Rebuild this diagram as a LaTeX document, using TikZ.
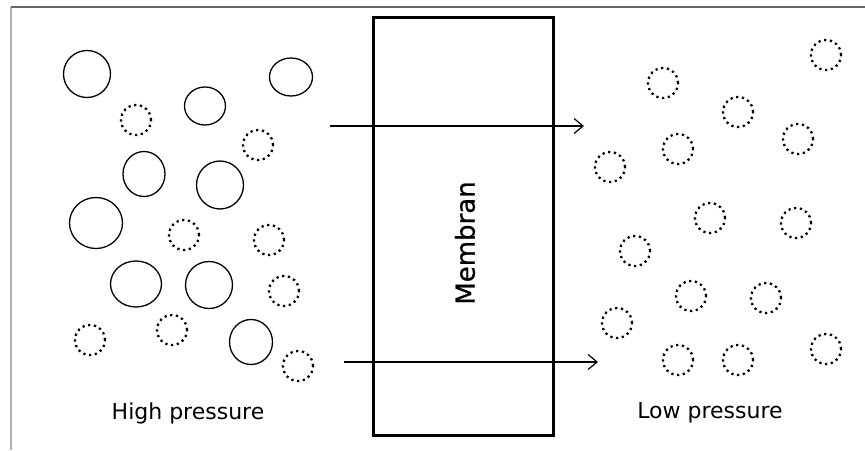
\documentclass[tikz,border=0pt]{standalone}
\usepackage{fontspec}
\setmainfont{DejaVu Sans}
\newfontfamily\membranfont[FakeBold=0.7]{DejaVu Sans}
\usetikzlibrary{shapes.geometric,arrows.meta}
\tikzset{
  solidmol/.style={draw, ellipse, line width=1.3pt, inner sep=0pt},
  dotmol/.style={draw, circle, minimum size=30pt, inner sep=0pt, line width=2.3pt,
                 dash pattern=on 2.2pt off 3.6pt},
  flow/.style={line width=1.2pt, -{Straight Barb[length=9pt,width=15pt,line width=1.2pt]}},
  frametop/.style={draw=black!60, line width=2pt},
  frameleft/.style={draw=black!30, line width=2pt},
  label/.style={font=\fontsize{22}{26}\selectfont, inner sep=0pt},
}
\begin{document}
\begin{tikzpicture}[x=1pt,y=-1pt]
\useasboundingbox (0,0) rectangle (865,450);
\fill[white] (0,0) rectangle (865,450);
% frame
\coordinate (ftl) at (10.5,7);
\coordinate (ftr) at (865,7);
\coordinate (fbl) at (10.5,450);
\draw[frameleft] (ftl) -- (fbl);
\draw[frametop] (ftl) -- (ftr);
% membrane
\node[draw, line width=3pt, minimum width=180pt, minimum height=418pt, inner sep=0pt] (mem) at (463,226) {};
\node[rotate=90, font=\membranfont\fontsize{26}{30}\selectfont, inner sep=0pt] (memtext) at (465,243) {Membran};
% left solid molecules
\node[solidmol, minimum width=47pt, minimum height=47pt] (s1) at (87,74) {};
\node[solidmol, minimum width=43pt, minimum height=38pt] (s2) at (291,77) {};
\node[solidmol, minimum width=41pt, minimum height=38pt] (s3) at (205,106) {};
\node[solidmol, minimum width=42pt, minimum height=45pt] (s4) at (144,174) {};
\node[solidmol, minimum width=47pt, minimum height=48pt] (s5) at (220,185) {};
\node[solidmol, minimum width=53pt, minimum height=51pt] (s6) at (96,223) {};
\node[solidmol, minimum width=51pt, minimum height=46pt] (s7) at (136,284) {};
\node[solidmol, minimum width=47pt, minimum height=47pt] (s8) at (209,285) {};
\node[solidmol, minimum width=43pt, minimum height=45pt] (s9) at (251,342) {};
% left dotted molecules
\node[dotmol] (l1) at (136,120) {};
\node[dotmol] (l2) at (258,145) {};
\node[dotmol] (l3) at (184,235) {};
\node[dotmol] (l4) at (269,240) {};
\node[dotmol] (l5) at (284,291) {};
\node[dotmol] (l6) at (90,340) {};
\node[dotmol] (l7) at (172,330) {};
\node[dotmol] (l8) at (298,366) {};
% right dotted molecules
\node[dotmol] (r1) at (826,55) {};
\node[dotmol] (r2) at (663,83) {};
\node[dotmol] (r3) at (738,112) {};
\node[dotmol] (r4) at (798,139) {};
\node[dotmol] (r5) at (678,149) {};
\node[dotmol] (r6) at (610,167) {};
\node[dotmol] (r7) at (710,218) {};
\node[dotmol] (r8) at (796,223) {};
\node[dotmol] (r9) at (635,251) {};
\node[dotmol] (r10) at (691,296) {};
\node[dotmol] (r11) at (766,298) {};
\node[dotmol] (r12) at (617,323) {};
\node[dotmol] (r13) at (678,360) {};
\node[dotmol] (r14) at (738,360) {};
\node[dotmol] (r15) at (826,349) {};
% arrows
\coordinate (a1s) at (330,126);
\coordinate (a1e) at (584,126);
\coordinate (a2s) at (344,362);
\coordinate (a2e) at (598,362);
\draw[flow] (a1s) -- (a1e);
\draw[flow] (a2s) -- (a2e);
% labels
\node[label] (hp) at (188,413) {High pressure};
\node[label] (lp) at (710,413) {Low pressure};
\end{tikzpicture}
\end{document}
